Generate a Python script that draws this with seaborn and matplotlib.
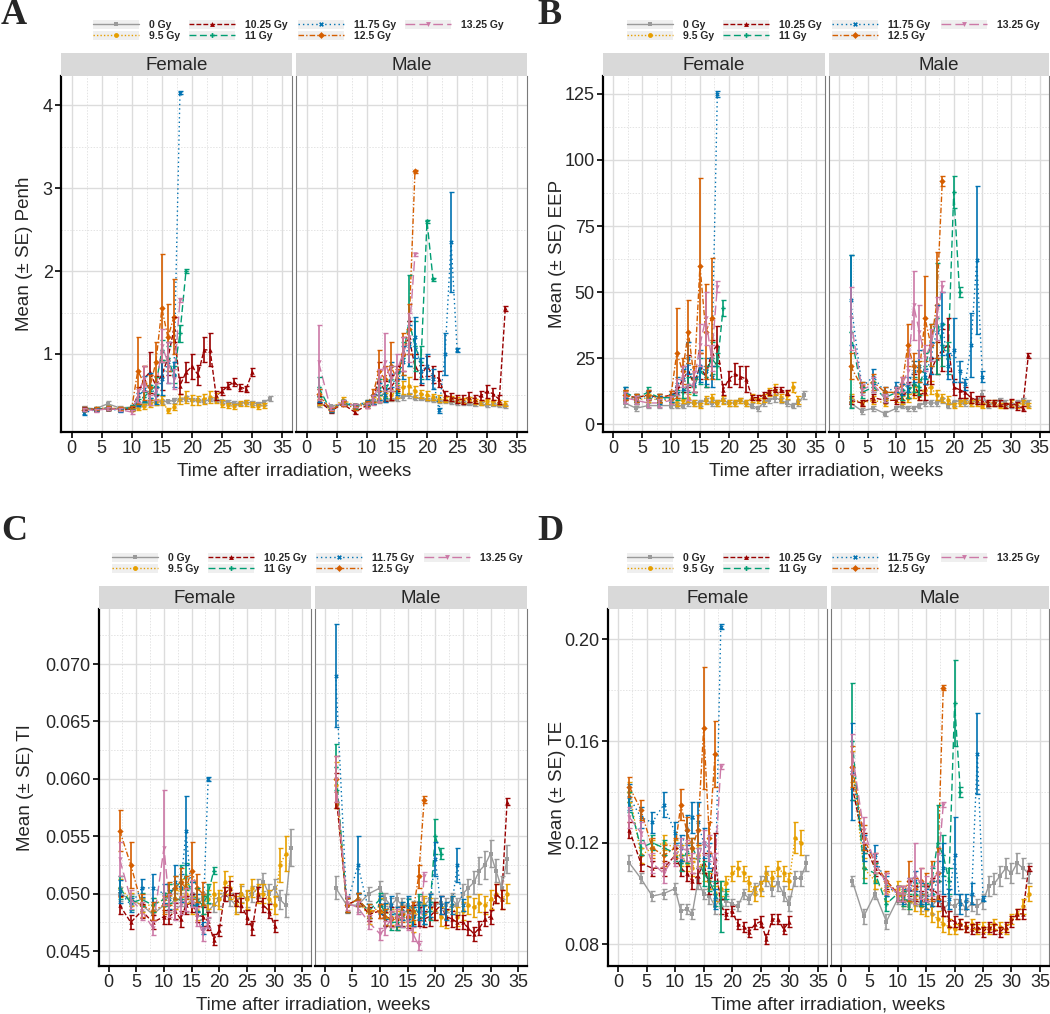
import matplotlib
matplotlib.use('Agg')
import numpy as np
import pandas as pd
import matplotlib.pyplot as plt
import seaborn as sns
from matplotlib.lines import Line2D
from matplotlib.patches import Rectangle
from matplotlib.legend_handler import HandlerTuple
from matplotlib.ticker import MultipleLocator, FormatStrFormatter

# ---- data -----------------------------------------------------------------
WEEKS = [2, 4, 6, 8, 10, 11, 12, 13, 14, 15, 16, 17, 18, 19, 20, 21, 22,
         23, 24, 25, 26, 27, 28, 29, 30, 31, 32, 33]
DOSES = ['0 Gy', '9.5 Gy', '10.25 Gy', '11 Gy', '11.75 Gy', '12.5 Gy', '13.25 Gy']
SEXES = ['Female', 'Male']

# Penh
PENH_F = {
    '0 Gy': [0.35, 0.34, 0.40, 0.35, 0.36, 0.38, 0.40, 0.41, 0.42, 0.42, 0.43, 0.44, 0.45, 0.46, 0.45, 0.44, 0.43, 0.45, 0.44, 0.43, 0.42, 0.41, 0.40, 0.42, 0.41, 0.40, 0.42, 0.46],
    '9.5 Gy': [0.34, 0.33, 0.35, 0.34, 0.33, 0.35, 0.37, 0.40, 0.42, 0.44, 0.32, 0.36, 0.46, 0.48, 0.45, 0.44, 0.46, 0.48, 0.47, 0.40, 0.38, 0.37, 0.40, 0.41, 0.39, 0.37, 0.38],
    '10.25 Gy': [0.34, 0.33, 0.34, 0.33, 0.34, 0.50, 0.70, 0.78, 0.62, 0.75, 0.95, 1.30, 0.62, 0.78, 0.85, 0.75, 1.05, 1.05, 0.50, 0.55, 0.62, 0.66, 0.60, 0.58, 0.78],
    '11 Gy': [0.33, 0.34, 0.35, 0.33, 0.36, 0.42, 0.48, 0.55, 0.62, 1.05, 0.95, 0.75, 1.25, 2.00],
    '11.75 Gy': [0.29, 0.33, 0.34, 0.32, 0.35, 0.45, 0.58, 0.62, 0.50, 0.70, 0.90, 0.75, 4.15],
    '12.5 Gy': [0.33, 0.34, 0.35, 0.34, 0.35, 0.80, 0.65, 0.60, 0.90, 1.55, 1.20, 1.45],
    '13.25 Gy': [0.33, 0.32, 0.34, 0.33, 0.30, 0.50, 0.70, 0.45, 0.55, 1.10, 0.90, 0.70, 1.65],
}
PENH_F_SE = {
    '0 Gy': [0.02, 0.02, 0.03, 0.02, 0.02, 0.02, 0.02, 0.03, 0.03, 0.02, 0.02, 0.03, 0.02, 0.03, 0.02, 0.02, 0.02, 0.02, 0.02, 0.02, 0.02, 0.02, 0.02, 0.02, 0.02, 0.02, 0.03, 0.03],
    '9.5 Gy': [0.02, 0.02, 0.02, 0.02, 0.02, 0.03, 0.03, 0.04, 0.04, 0.05, 0.03, 0.04, 0.06, 0.07, 0.06, 0.05, 0.06, 0.07, 0.06, 0.04, 0.03, 0.03, 0.03, 0.04, 0.03, 0.03, 0.03],
    '10.25 Gy': [0.02, 0.02, 0.02, 0.02, 0.02, 0.10, 0.15, 0.25, 0.12, 0.18, 0.20, 0.15, 0.10, 0.12, 0.15, 0.12, 0.15, 0.20, 0.05, 0.05, 0.04, 0.05, 0.04, 0.04, 0.05],
    '11 Gy': [0.02, 0.02, 0.02, 0.02, 0.02, 0.04, 0.06, 0.08, 0.10, 0.12, 0.15, 0.10, 0.10, 0.02],
    '11.75 Gy': [0.02, 0.02, 0.02, 0.02, 0.02, 0.08, 0.15, 0.15, 0.10, 0.20, 0.25, 0.15, 0.02],
    '12.5 Gy': [0.02, 0.02, 0.02, 0.02, 0.02, 0.40, 0.20, 0.15, 0.25, 0.65, 0.40, 0.45],
    '13.25 Gy': [0.02, 0.02, 0.02, 0.02, 0.02, 0.08, 0.15, 0.06, 0.10, 0.20, 0.25, 0.12, 0.02],
}
PENH_M = {
    '0 Gy': [0.39, 0.37, 0.40, 0.38, 0.40, 0.42, 0.43, 0.44, 0.45, 0.46, 0.48, 0.50, 0.47, 0.46, 0.45, 0.44, 0.43, 0.43, 0.42, 0.41, 0.41, 0.40, 0.39, 0.40, 0.38, 0.39, 0.38, 0.37],
    '9.5 Gy': [0.42, 0.33, 0.45, 0.38, 0.42, 0.45, 0.46, 0.48, 0.50, 0.55, 0.60, 0.62, 0.55, 0.52, 0.50, 0.48, 0.46, 0.45, 0.46, 0.45, 0.44, 0.45, 0.43, 0.42, 0.43, 0.42, 0.41, 0.40],
    '10.25 Gy': [0.45, 0.31, 0.40, 0.30, 0.38, 0.45, 0.70, 0.55, 0.60, 0.70, 1.00, 1.20, 0.85, 0.75, 0.85, 0.75, 0.70, 0.50, 0.48, 0.46, 0.45, 0.48, 0.46, 0.50, 0.55, 0.52, 0.45, 1.55],
    '11 Gy': [0.60, 0.32, 0.42, 0.36, 0.40, 0.45, 0.60, 0.55, 0.70, 0.65, 0.95, 1.40, 1.10, 0.90, 2.60, 1.90],
    '11.75 Gy': [0.50, 0.32, 0.42, 0.38, 0.42, 0.45, 0.55, 0.50, 0.75, 0.60, 0.90, 1.10, 1.20, 0.80, 0.85, 0.70, 0.32, 1.00, 2.35, 1.05],
    '12.5 Gy': [0.52, 0.33, 0.40, 0.35, 0.40, 0.50, 0.80, 0.70, 0.85, 0.70, 1.00, 1.30, 3.20],
    '13.25 Gy': [0.90, 0.34, 0.42, 0.38, 0.38, 0.45, 0.62, 0.90, 0.70, 0.80, 1.00, 1.20, 2.20],
}
PENH_M_SE = {
    '0 Gy': [0.03, 0.02, 0.02, 0.02, 0.02, 0.02, 0.02, 0.02, 0.02, 0.03, 0.03, 0.03, 0.03, 0.02, 0.02, 0.02, 0.02, 0.02, 0.02, 0.02, 0.02, 0.02, 0.02, 0.02, 0.02, 0.02, 0.02, 0.02],
    '9.5 Gy': [0.03, 0.02, 0.03, 0.02, 0.03, 0.03, 0.04, 0.05, 0.06, 0.08, 0.08, 0.10, 0.07, 0.05, 0.05, 0.04, 0.04, 0.03, 0.03, 0.03, 0.03, 0.03, 0.03, 0.03, 0.03, 0.03, 0.03, 0.03],
    '10.25 Gy': [0.04, 0.02, 0.03, 0.02, 0.03, 0.05, 0.20, 0.12, 0.15, 0.15, 0.20, 0.20, 0.15, 0.12, 0.12, 0.10, 0.10, 0.05, 0.05, 0.05, 0.05, 0.06, 0.05, 0.06, 0.08, 0.07, 0.05, 0.03],
    '11 Gy': [0.12, 0.02, 0.03, 0.02, 0.03, 0.05, 0.10, 0.08, 0.15, 0.12, 0.20, 0.55, 0.30, 0.20, 0.02, 0.02],
    '11.75 Gy': [0.08, 0.02, 0.03, 0.02, 0.03, 0.05, 0.10, 0.08, 0.15, 0.10, 0.20, 0.25, 0.25, 0.15, 0.15, 0.12, 0.03, 0.25, 0.60, 0.02],
    '12.5 Gy': [0.06, 0.02, 0.03, 0.02, 0.03, 0.08, 0.25, 0.15, 0.30, 0.12, 0.25, 0.30, 0.02],
    '13.25 Gy': [0.45, 0.02, 0.03, 0.02, 0.03, 0.06, 0.20, 0.35, 0.15, 0.20, 0.20, 0.30, 0.02],
}

# EEP
EEP_F = {
    '0 Gy': [8, 6, 7, 7, 7, 7, 7, 8, 8, 8, 9, 8, 8, 9, 8, 8, 9, 8, 7, 6, 8, 9, 10, 9, 8, 7, 8, 11],
    '9.5 Gy': [11, 9, 10, 9, 9, 8, 9, 10, 8, 7, 9, 10, 8, 9, 8, 8, 9, 8, 10, 9, 10, 12, 13, 10, 11, 14, 9],
    '10.25 Gy': [11, 10, 11, 10, 11, 12, 17, 20, 15, 22, 18, 27, 30, 13, 17, 19, 18, 17, 10, 10, 11, 12, 13, 13, 12],
    '11 Gy': [12, 10, 12, 10, 10, 11, 12, 15, 14, 20, 18, 25, 22, 44],
    '11.75 Gy': [12, 9, 11, 9, 10, 15, 17, 25, 15, 22, 20, 18, 125],
    '12.5 Gy': [11, 10, 11, 10, 11, 27, 20, 35, 17, 60, 35, 40],
    '13.25 Gy': [10, 9, 8, 8, 9, 14, 18, 12, 16, 30, 40, 25, 52],
}
EEP_F_SE = {
    '0 Gy': [1.5, 1, 1, 1, 1, 1, 1, 1, 1, 1, 1, 1, 1, 1, 1, 1, 1, 1, 1, 1, 1, 1, 1.5, 1, 1, 1, 1, 1.5],
    '9.5 Gy': [1.5, 1.5, 1.5, 1, 1, 1, 1, 1.5, 1, 1, 1.5, 1.5, 1, 1.5, 1, 1, 1, 1, 1.5, 1, 1.5, 1.5, 2, 1.5, 1.5, 2, 1.5],
    '10.25 Gy': [2, 1.5, 1.5, 1.5, 1.5, 2, 5, 6, 3, 5, 4, 5, 7, 2, 3, 4, 4, 5, 1, 1, 1, 1, 1, 1, 1],
    '11 Gy': [2, 1.5, 2, 1.5, 1.5, 2, 2, 3, 3, 5, 4, 6, 5, 3],
    '11.75 Gy': [2, 1.5, 2, 1.5, 1.5, 3, 4, 6, 3, 6, 5, 4, 1],
    '12.5 Gy': [2, 1.5, 2, 1.5, 1.5, 17, 5, 12, 5, 33, 18, 23],
    '13.25 Gy': [2, 1.5, 1.5, 1.5, 1.5, 3, 4, 3, 4, 8, 10, 5, 2],
}
EEP_M = {
    '0 Gy': [8, 5, 6, 4, 6, 7, 6, 6, 7, 8, 8, 8, 9, 7, 8, 9, 8, 8, 9, 11, 7, 8, 9, 8, 7, 8, 9, 8],
    '9.5 Gy': [10, 8, 9, 8, 10, 9, 10, 12, 11, 13, 14, 11, 10, 9, 7, 8, 9, 8, 8, 7, 8, 8, 7, 7, 8, 7, 8, 7],
    '10.25 Gy': [9, 8, 10, 9, 9, 10, 13, 15, 11, 12, 20, 25, 28, 30, 14, 13, 12, 10, 9, 9, 8, 8, 8, 7, 8, 7, 6, 26],
    '11 Gy': [35, 12, 14, 10, 12, 11, 12, 15, 14, 22, 30, 40, 30, 25, 88, 50],
    '11.75 Gy': [47, 14, 18, 12, 14, 13, 15, 20, 22, 18, 25, 35, 38, 22, 28, 20, 15, 30, 62, 18],
    '12.5 Gy': [22, 14, 16, 12, 12, 15, 30, 22, 20, 40, 30, 45, 92],
    '13.25 Gy': [40, 13, 15, 10, 12, 15, 20, 45, 35, 25, 30, 40, 52],
}
EEP_M_SE = {
    '0 Gy': [1.5, 1, 1, 1, 1, 1, 1, 1, 1, 1, 1, 1, 1, 1, 1, 1, 1, 1, 1, 2, 1, 1, 1, 1, 1, 1, 1, 1],
    '9.5 Gy': [1.5, 1, 1.5, 1, 1.5, 1.5, 1.5, 2, 2, 2, 2.5, 2, 1.5, 1.5, 1, 1, 1, 1, 1, 1, 1, 1, 1, 1, 1, 1, 1, 1],
    '10.25 Gy': [1.5, 1, 1.5, 1, 1.5, 1.5, 3, 4, 2, 3, 5, 6, 8, 10, 3, 3, 2, 2, 1.5, 1.5, 1, 1, 1, 1, 1.5, 1.5, 1, 1],
    '11 Gy': [29, 2, 2, 1.5, 2, 2, 2, 3, 3, 5, 8, 21, 8, 6, 6, 2],
    '11.75 Gy': [17, 2, 3, 2, 2, 2, 3, 4, 6, 3, 6, 10, 12, 5, 12, 4, 2, 12, 28, 2],
    '12.5 Gy': [5, 2, 3, 2, 2, 3, 8, 5, 4, 16, 8, 20, 2],
    '13.25 Gy': [12, 2, 3, 1.5, 2, 3, 5, 13, 10, 5, 6, 8, 2],
}

# TI
TI_F = {
    '0 Gy': [0.0500, 0.0495, 0.0490, 0.0482, 0.0490, 0.0490, 0.0495, 0.0495, 0.0490, 0.0495, 0.0490, 0.0495, 0.0485, 0.0490, 0.0495, 0.0500, 0.0495, 0.0490, 0.0500, 0.0495, 0.0500, 0.0505, 0.0510, 0.0500, 0.0505, 0.0495, 0.0490, 0.0540],
    '9.5 Gy': [0.0505, 0.0495, 0.0490, 0.0490, 0.0495, 0.0500, 0.0495, 0.0505, 0.0500, 0.0490, 0.0485, 0.0490, 0.0495, 0.0500, 0.0495, 0.0510, 0.0505, 0.0490, 0.0500, 0.0495, 0.0505, 0.0500, 0.0500, 0.0495, 0.0490, 0.0525, 0.0535],
    '10.25 Gy': [0.0490, 0.0475, 0.0485, 0.0475, 0.0480, 0.0480, 0.0485, 0.0478, 0.0490, 0.0492, 0.0482, 0.0480, 0.0476, 0.0460, 0.0468, 0.0500, 0.0505, 0.0495, 0.0490, 0.0480, 0.0470, 0.0500, 0.0490, 0.0485, 0.0472],
    '11 Gy': [0.0505, 0.0492, 0.0495, 0.0490, 0.0495, 0.0500, 0.0505, 0.0510, 0.0515, 0.0500, 0.0495, 0.0490, 0.0500, 0.0520],
    '11.75 Gy': [0.0502, 0.0490, 0.0505, 0.0505, 0.0500, 0.0495, 0.0510, 0.0505, 0.0555, 0.0500, 0.0492, 0.0470, 0.0600],
    '12.5 Gy': [0.0555, 0.0525, 0.0490, 0.0485, 0.0490, 0.0500, 0.0505, 0.0510, 0.0505, 0.0520, 0.0505, 0.0500],
    '13.25 Gy': [0.0530, 0.0495, 0.0485, 0.0470, 0.0540, 0.0490, 0.0485, 0.0490, 0.0495, 0.0500, 0.0480, 0.0465, 0.0475],
}
TI_F_SE = {
    '0 Gy': [0.0006, 0.0005, 0.0005, 0.0005, 0.0006, 0.0006, 0.0006, 0.0006, 0.0006, 0.0006, 0.0006, 0.0006, 0.0006, 0.0006, 0.0006, 0.0006, 0.0006, 0.0006, 0.0007, 0.0007, 0.0007, 0.0008, 0.0008, 0.0008, 0.0008, 0.0008, 0.0010, 0.0016],
    '9.5 Gy': [0.0008, 0.0006, 0.0006, 0.0006, 0.0006, 0.0008, 0.0008, 0.0008, 0.0008, 0.0008, 0.0008, 0.0008, 0.0008, 0.0010, 0.0008, 0.0010, 0.0010, 0.0008, 0.0008, 0.0008, 0.0008, 0.0008, 0.0008, 0.0008, 0.0008, 0.0015, 0.0015],
    '10.25 Gy': [0.0008, 0.0006, 0.0006, 0.0006, 0.0006, 0.0006, 0.0007, 0.0007, 0.0008, 0.0008, 0.0007, 0.0008, 0.0008, 0.0005, 0.0005, 0.0006, 0.0006, 0.0006, 0.0006, 0.0006, 0.0006, 0.0006, 0.0006, 0.0006, 0.0005],
    '11 Gy': [0.0010, 0.0006, 0.0006, 0.0006, 0.0006, 0.0008, 0.0010, 0.0015, 0.0012, 0.0010, 0.0010, 0.0008, 0.0008, 0.0003],
    '11.75 Gy': [0.0010, 0.0006, 0.0008, 0.0012, 0.0008, 0.0008, 0.0015, 0.0012, 0.0030, 0.0010, 0.0008, 0.0005, 0.0002],
    '12.5 Gy': [0.0018, 0.0020, 0.0010, 0.0008, 0.0008, 0.0010, 0.0010, 0.0012, 0.0010, 0.0025, 0.0012, 0.0010],
    '13.25 Gy': [0.0015, 0.0008, 0.0008, 0.0006, 0.0050, 0.0010, 0.0008, 0.0008, 0.0010, 0.0012, 0.0008, 0.0006, 0.0005],
}
TI_M = {
    '0 Gy': [0.0505, 0.0490, 0.0490, 0.0500, 0.0505, 0.0495, 0.0490, 0.0495, 0.0490, 0.0490, 0.0488, 0.0492, 0.0490, 0.0495, 0.0490, 0.0492, 0.0490, 0.0495, 0.0490, 0.0500, 0.0505, 0.0510, 0.0520, 0.0525, 0.0535, 0.0520, 0.0505, 0.0530],
    '9.5 Gy': [0.0595, 0.0490, 0.0495, 0.0480, 0.0490, 0.0485, 0.0480, 0.0478, 0.0485, 0.0480, 0.0475, 0.0485, 0.0490, 0.0488, 0.0485, 0.0480, 0.0478, 0.0490, 0.0480, 0.0485, 0.0490, 0.0488, 0.0492, 0.0490, 0.0495, 0.0500, 0.0495, 0.0500],
    '10.25 Gy': [0.0590, 0.0490, 0.0495, 0.0482, 0.0485, 0.0478, 0.0480, 0.0475, 0.0480, 0.0478, 0.0482, 0.0480, 0.0478, 0.0480, 0.0485, 0.0490, 0.0480, 0.0478, 0.0475, 0.0475, 0.0470, 0.0465, 0.0470, 0.0478, 0.0480, 0.0500, 0.0495, 0.0580],
    '11 Gy': [0.0610, 0.0490, 0.0495, 0.0485, 0.0495, 0.0480, 0.0475, 0.0475, 0.0478, 0.0485, 0.0480, 0.0490, 0.0482, 0.0485, 0.0550, 0.0535],
    '11.75 Gy': [0.0690, 0.0490, 0.0525, 0.0485, 0.0490, 0.0485, 0.0490, 0.0480, 0.0485, 0.0488, 0.0480, 0.0485, 0.0482, 0.0490, 0.0530, 0.0490, 0.0485, 0.0490, 0.0525, 0.0490],
    '12.5 Gy': [0.0600, 0.0490, 0.0495, 0.0485, 0.0485, 0.0480, 0.0478, 0.0480, 0.0482, 0.0480, 0.0485, 0.0515, 0.0582],
    '13.25 Gy': [0.0600, 0.0492, 0.0488, 0.0475, 0.0465, 0.0470, 0.0478, 0.0480, 0.0478, 0.0475, 0.0465, 0.0455, 0.0515],
}
TI_M_SE = {
    '0 Gy': [0.0010, 0.0007, 0.0006, 0.0006, 0.0006, 0.0006, 0.0006, 0.0006, 0.0006, 0.0006, 0.0006, 0.0006, 0.0006, 0.0006, 0.0006, 0.0006, 0.0006, 0.0006, 0.0006, 0.0008, 0.0008, 0.0010, 0.0012, 0.0012, 0.0012, 0.0010, 0.0010, 0.0012],
    '9.5 Gy': [0.0020, 0.0006, 0.0006, 0.0006, 0.0006, 0.0006, 0.0007, 0.0007, 0.0008, 0.0008, 0.0008, 0.0008, 0.0008, 0.0008, 0.0008, 0.0008, 0.0008, 0.0008, 0.0008, 0.0008, 0.0008, 0.0008, 0.0008, 0.0008, 0.0008, 0.0008, 0.0008, 0.0008],
    '10.25 Gy': [0.0015, 0.0006, 0.0006, 0.0006, 0.0006, 0.0006, 0.0008, 0.0007, 0.0008, 0.0008, 0.0008, 0.0008, 0.0007, 0.0008, 0.0008, 0.0008, 0.0007, 0.0007, 0.0006, 0.0006, 0.0006, 0.0006, 0.0006, 0.0006, 0.0006, 0.0008, 0.0008, 0.0003],
    '11 Gy': [0.0020, 0.0006, 0.0006, 0.0006, 0.0006, 0.0007, 0.0007, 0.0007, 0.0007, 0.0010, 0.0008, 0.0010, 0.0008, 0.0008, 0.0015, 0.0005],
    '11.75 Gy': [0.0045, 0.0006, 0.0025, 0.0006, 0.0008, 0.0007, 0.0008, 0.0008, 0.0008, 0.0010, 0.0008, 0.0008, 0.0008, 0.0010, 0.0015, 0.0008, 0.0008, 0.0008, 0.0015, 0.0005],
    '12.5 Gy': [0.0020, 0.0006, 0.0006, 0.0006, 0.0006, 0.0007, 0.0007, 0.0007, 0.0007, 0.0007, 0.0008, 0.0010, 0.0003],
    '13.25 Gy': [0.0020, 0.0006, 0.0006, 0.0006, 0.0005, 0.0006, 0.0007, 0.0007, 0.0007, 0.0007, 0.0006, 0.0004, 0.0004],
}

# TE
TE_F = {
    '0 Gy': [0.112, 0.106, 0.099, 0.100, 0.102, 0.093, 0.094, 0.092, 0.105, 0.100, 0.099, 0.095, 0.098, 0.097, 0.096, 0.095, 0.100, 0.098, 0.102, 0.104, 0.106, 0.102, 0.104, 0.100, 0.096, 0.106, 0.106, 0.112],
    '9.5 Gy': [0.140, 0.115, 0.118, 0.120, 0.118, 0.115, 0.112, 0.110, 0.115, 0.108, 0.105, 0.100, 0.102, 0.104, 0.108, 0.110, 0.108, 0.104, 0.100, 0.102, 0.108, 0.106, 0.110, 0.108, 0.105, 0.122, 0.120],
    '10.25 Gy': [0.125, 0.112, 0.110, 0.110, 0.115, 0.110, 0.108, 0.105, 0.107, 0.112, 0.103, 0.114, 0.095, 0.092, 0.093, 0.088, 0.087, 0.085, 0.088, 0.089, 0.082, 0.090, 0.090, 0.086, 0.089],
    '11 Gy': [0.136, 0.118, 0.120, 0.118, 0.116, 0.112, 0.116, 0.118, 0.114, 0.108, 0.105, 0.100, 0.095, 0.100],
    '11.75 Gy': [0.138, 0.130, 0.128, 0.135, 0.124, 0.118, 0.125, 0.130, 0.128, 0.120, 0.115, 0.098, 0.205],
    '12.5 Gy': [0.142, 0.133, 0.118, 0.115, 0.118, 0.135, 0.125, 0.118, 0.125, 0.165, 0.122, 0.155],
    '13.25 Gy': [0.130, 0.124, 0.112, 0.108, 0.115, 0.118, 0.117, 0.112, 0.114, 0.120, 0.118, 0.112, 0.150],
}
TE_F_SE = {
    '0 Gy': [0.003, 0.002, 0.002, 0.002, 0.002, 0.003, 0.002, 0.002, 0.003, 0.002, 0.003, 0.003, 0.003, 0.002, 0.002, 0.002, 0.002, 0.002, 0.002, 0.003, 0.003, 0.003, 0.003, 0.003, 0.003, 0.003, 0.003, 0.003],
    '9.5 Gy': [0.004, 0.003, 0.003, 0.003, 0.003, 0.004, 0.003, 0.003, 0.004, 0.003, 0.003, 0.003, 0.003, 0.003, 0.003, 0.003, 0.003, 0.003, 0.003, 0.003, 0.003, 0.003, 0.003, 0.003, 0.003, 0.006, 0.005],
    '10.25 Gy': [0.003, 0.003, 0.003, 0.003, 0.003, 0.003, 0.003, 0.003, 0.003, 0.004, 0.003, 0.010, 0.003, 0.002, 0.002, 0.002, 0.002, 0.002, 0.002, 0.002, 0.002, 0.002, 0.002, 0.002, 0.002],
    '11 Gy': [0.004, 0.003, 0.003, 0.003, 0.003, 0.003, 0.004, 0.004, 0.004, 0.005, 0.004, 0.005, 0.010, 0.002],
    '11.75 Gy': [0.005, 0.004, 0.004, 0.005, 0.004, 0.005, 0.006, 0.006, 0.008, 0.006, 0.005, 0.004, 0.001],
    '12.5 Gy': [0.004, 0.004, 0.004, 0.004, 0.004, 0.006, 0.005, 0.004, 0.006, 0.024, 0.006, 0.013],
    '13.25 Gy': [0.004, 0.004, 0.004, 0.004, 0.004, 0.004, 0.004, 0.004, 0.004, 0.005, 0.005, 0.004, 0.001],
}
TE_M = {
    '0 Gy': [0.105, 0.091, 0.100, 0.089, 0.098, 0.097, 0.095, 0.098, 0.096, 0.097, 0.095, 0.098, 0.094, 0.096, 0.095, 0.097, 0.094, 0.096, 0.095, 0.097, 0.103, 0.104, 0.107, 0.110, 0.108, 0.112, 0.110, 0.108],
    '9.5 Gy': [0.150, 0.110, 0.105, 0.100, 0.102, 0.098, 0.097, 0.096, 0.095, 0.094, 0.092, 0.090, 0.088, 0.087, 0.086, 0.088, 0.087, 0.088, 0.086, 0.087, 0.086, 0.088, 0.087, 0.086, 0.090, 0.092, 0.095, 0.100],
    '10.25 Gy': [0.142, 0.120, 0.110, 0.105, 0.100, 0.100, 0.102, 0.100, 0.098, 0.100, 0.102, 0.100, 0.095, 0.090, 0.089, 0.088, 0.087, 0.086, 0.087, 0.085, 0.087, 0.086, 0.085, 0.087, 0.089, 0.092, 0.092, 0.110],
    '11 Gy': [0.160, 0.110, 0.108, 0.096, 0.100, 0.098, 0.097, 0.100, 0.099, 0.100, 0.105, 0.120, 0.115, 0.105, 0.175, 0.140],
    '11.75 Gy': [0.148, 0.118, 0.115, 0.103, 0.100, 0.099, 0.102, 0.105, 0.100, 0.098, 0.100, 0.105, 0.110, 0.098, 0.115, 0.096, 0.097, 0.100, 0.155, 0.098],
    '12.5 Gy': [0.150, 0.122, 0.112, 0.105, 0.100, 0.100, 0.105, 0.102, 0.105, 0.103, 0.105, 0.108, 0.181],
    '13.25 Gy': [0.155, 0.125, 0.112, 0.104, 0.100, 0.100, 0.102, 0.108, 0.104, 0.102, 0.105, 0.108, 0.135],
}
TE_M_SE = {
    '0 Gy': [0.002, 0.003, 0.002, 0.003, 0.002, 0.003, 0.003, 0.003, 0.003, 0.003, 0.003, 0.003, 0.003, 0.003, 0.003, 0.003, 0.003, 0.003, 0.003, 0.003, 0.004, 0.004, 0.004, 0.004, 0.004, 0.004, 0.004, 0.004],
    '9.5 Gy': [0.006, 0.004, 0.003, 0.003, 0.003, 0.003, 0.003, 0.003, 0.003, 0.003, 0.003, 0.003, 0.003, 0.003, 0.002, 0.002, 0.002, 0.002, 0.002, 0.002, 0.002, 0.002, 0.002, 0.002, 0.002, 0.002, 0.003, 0.003],
    '10.25 Gy': [0.005, 0.004, 0.003, 0.003, 0.003, 0.003, 0.003, 0.003, 0.003, 0.003, 0.004, 0.005, 0.004, 0.003, 0.002, 0.002, 0.002, 0.002, 0.002, 0.002, 0.002, 0.002, 0.002, 0.002, 0.002, 0.002, 0.002, 0.001],
    '11 Gy': [0.023, 0.006, 0.004, 0.003, 0.003, 0.003, 0.003, 0.004, 0.004, 0.004, 0.005, 0.015, 0.008, 0.005, 0.017, 0.002],
    '11.75 Gy': [0.019, 0.005, 0.004, 0.004, 0.003, 0.003, 0.004, 0.004, 0.004, 0.004, 0.005, 0.008, 0.010, 0.004, 0.015, 0.004, 0.003, 0.004, 0.016, 0.001],
    '12.5 Gy': [0.008, 0.005, 0.004, 0.004, 0.003, 0.003, 0.008, 0.004, 0.005, 0.005, 0.008, 0.010, 0.001],
    '13.25 Gy': [0.008, 0.005, 0.004, 0.004, 0.003, 0.003, 0.004, 0.012, 0.006, 0.005, 0.006, 0.008, 0.001],
}

# ---- styles ----------------------------------------------------------------
COLORS = {'0 Gy': '#9A9A9A', '9.5 Gy': '#E69F00', '10.25 Gy': '#990000',
          '11 Gy': '#009E73', '11.75 Gy': '#0072B2', '12.5 Gy': '#D55E00',
          '13.25 Gy': '#CC79A7'}
DASHES = {'0 Gy': '', '9.5 Gy': (1, 1.5), '10.25 Gy': (3.5, 1.5),
          '11 Gy': (5, 2.5), '11.75 Gy': (1, 2.2), '12.5 Gy': (4, 1.5, 1, 1.5),
          '13.25 Gy': (7, 3)}
MARKERS = {'0 Gy': 's', '9.5 Gy': 'o', '10.25 Gy': '^', '11 Gy': 'P',
           '11.75 Gy': 'X', '12.5 Gy': 'D', '13.25 Gy': 'v'}

sns.set_theme(style='white')
plt.rcParams['font.family'] = ['Liberation Sans', 'DejaVu Sans']

W, H = 1050, 1014
fig = plt.figure(figsize=(W / 100, H / 100), dpi=100)


def px_box(l, r, t, b):
    return [l / W, 1 - b / H, (r - l) / W, (b - t) / H]


def to_frame(mean, se):
    rows = []
    for dose in DOSES:
        for wk, m, s in zip(WEEKS, mean[dose], se[dose]):
            rows.append((dose, wk, m, s))
    return pd.DataFrame(rows, columns=['dose', 'week', 'mean', 'se'])


PANELS = [
    dict(letter='A', lxy=(14, 16), data=[(PENH_F, PENH_F_SE), (PENH_M, PENH_M_SE)],
         ylab='Mean (\u00b1 SE) Penh', ylim=(0.06, 4.35), major=1, minor=0.5, fmt='%g',
         xs=[(61, 292), (296, 527)], ys=(76, 432), strip=53, ylx=25,
         keys=[93, 189, 298, 405], rows=[25, 36]),
    dict(letter='B', lxy=(550, 16), data=[(EEP_F, EEP_F_SE), (EEP_M, EEP_M_SE)],
         ylab='Mean (\u00b1 SE) EEP', ylim=(-3.0, 131.8), major=25, minor=12.5, fmt='%g',
         xs=[(603, 825), (829, 1049)], ys=(76, 432), strip=53, ylx=557,
         keys=[627, 723, 832, 941], rows=[25, 36]),
    dict(letter='C', lxy=(14, 531), data=[(TI_F, TI_F_SE), (TI_M, TI_M_SE)],
         ylab='Mean (\u00b1 SE) TI', ylim=(0.0437, 0.0748), major=0.005, minor=0.0025, fmt='%.3f',
         xs=[(99, 311), (315, 527)], ys=(609, 966), strip=586, ylx=25,
         keys=[112, 208, 316, 424], rows=[558, 569]),
    dict(letter='D', lxy=(550, 531), data=[(TE_F, TE_F_SE), (TE_M, TE_M_SE)],
         ylab='Mean (\u00b1 SE) TE', ylim=(0.0715, 0.212), major=0.04, minor=0.02, fmt='%.2f',
         xs=[(608, 827), (831, 1049)], ys=(609, 966), strip=586, ylx=557,
         keys=[627, 723, 832, 941], rows=[558, 569]),
]

# legend entries laid out column by column (2 rows, 4 columns)
LEG_SLOTS = [(0, 0), (0, 1), (1, 0), (1, 1), (2, 0), (2, 1), (3, 0)]

for p in PANELS:
    top, bot = p['ys']
    for i, (sex, (mean, se)) in enumerate(zip(SEXES, p['data'])):
        l, r = p['xs'][i]
        ax = fig.add_axes(px_box(l, r, top, bot))
        df = to_frame(mean, se)
        sns.lineplot(data=df, x='week', y='mean', hue='dose', style='dose',
                     hue_order=DOSES, style_order=DOSES, palette=COLORS,
                     dashes=DASHES, markers=MARKERS, markersize=3.2,
                     markeredgewidth=0, linewidth=1.0, estimator=None,
                     sort=False, legend=False, ax=ax)
        for dose in DOSES:
            d = df[df['dose'] == dose]
            ax.errorbar(d['week'], d['mean'], yerr=d['se'], fmt='none',
                        ecolor=COLORS[dose], elinewidth=1.2, capsize=1.8,
                        capthick=1.0)
        ax.set_xlim(-1.75, 36.6)
        ax.set_ylim(*p['ylim'])
        ax.xaxis.set_major_locator(MultipleLocator(5))
        ax.xaxis.set_minor_locator(MultipleLocator(2.5))
        ax.yaxis.set_major_locator(MultipleLocator(p['major']))
        ax.yaxis.set_minor_locator(MultipleLocator(p['minor']))
        ax.yaxis.set_major_formatter(FormatStrFormatter(p['fmt']))
        ax.grid(which='major', color='#DCDCDC', lw=1.0)
        ax.grid(which='minor', color='#E4E4E4', lw=0.7, ls=(0, (1.5, 1.5)))
        ax.set_axisbelow(True)
        ax.set_xlabel('')
        ax.set_ylabel('')
        ax.spines['top'].set_visible(False)
        ax.spines['right'].set_color('#7A7A7A')
        ax.spines['right'].set_linewidth(0.8)
        ax.spines['bottom'].set_color('black')
        ax.spines['bottom'].set_linewidth(1.6)
        ax.tick_params(axis='x', which='major', direction='out', length=4,
                       width=1.2, color='black', labelsize=13, pad=2, bottom=True)
        ax.tick_params(which='minor', length=0)
        if i == 0:
            ax.spines['left'].set_color('black')
            ax.spines['left'].set_linewidth(1.6)
            ax.tick_params(axis='y', which='major', direction='out', length=4,
                           width=1.2, color='black', labelsize=13, pad=2, left=True)
        else:
            ax.spines['left'].set_color('#7A7A7A')
            ax.spines['left'].set_linewidth(0.8)
            ax.tick_params(axis='y', left=False, labelleft=False)

        # facet strip
        sax = fig.add_axes(px_box(l, r, p['strip'], top))
        sax.set_facecolor('#D9D9D9')
        sax.set_xticks([])
        sax.set_yticks([])
        for s in sax.spines.values():
            s.set_visible(False)
        sax.text(0.5, 0.45, sex, ha='center', va='center', fontsize=13.5,
                 transform=sax.transAxes)

    # labels
    x0, x1 = p['xs'][0][0], p['xs'][1][1]
    fig.text((x0 + x1) / 2 / W, 1 - (bot + 39) / H, 'Time after irradiation, weeks',
             ha='center', va='center', fontsize=13.5)
    fig.text(p['ylx'] / W, 1 - (top + bot) / 2 / H, p['ylab'], rotation=90,
             ha='center', va='center', fontsize=13.5)
    fig.text(p['lxy'][0] / W, 1 - p['lxy'][1] / H, p['letter'], ha='center',
             va='center', fontsize=26, fontweight='bold', family='Liberation Serif')

    # legend: one entry per slot so the labels stay left aligned
    for dose, (col, row) in zip(DOSES, LEG_SLOTS):
        bg = Rectangle((0, 0), 1, 1, facecolor='#EFEFEF', edgecolor='none')
        ln = Line2D([], [], color=COLORS[dose], lw=1.0,
                    linestyle=(0, DASHES[dose]) if DASHES[dose] else '-',
                    marker=MARKERS[dose], markersize=3.5, markeredgewidth=0)
        fig.legend([(bg, ln)], [dose], handler_map={tuple: HandlerTuple(ndivide=1)},
                   loc='center left',
                   bbox_to_anchor=(p['keys'][col] / W, 1 - p['rows'][row] / H),
                   frameon=False, borderpad=0, borderaxespad=0,
                   handlelength=4.4, handleheight=1.0, handletextpad=1.0,
                   prop={'weight': 'bold', 'size': 7.5})

fig.savefig('out.png', dpi=100)
